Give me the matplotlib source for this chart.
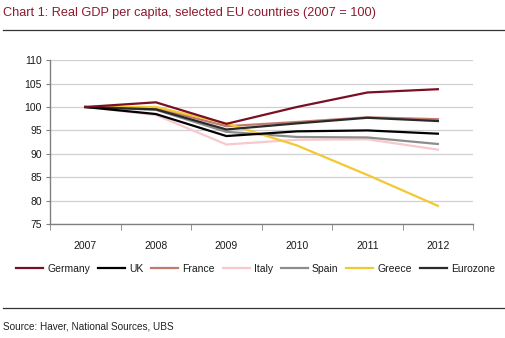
import matplotlib
matplotlib.use("Agg")
import matplotlib.pyplot as plt
from matplotlib.lines import Line2D

plt.rcParams["font.family"] = ["Liberation Sans", "DejaVu Sans"]

years = ["2007", "2008", "2009", "2010", "2011", "2012"]
germany = [100, 101.0, 96.4, 100.0, 103.1, 103.8]
uk = [100, 98.5, 93.8, 94.8, 95.0, 94.3]
france = [100, 99.8, 95.9, 96.8, 97.8, 97.4]
italy = [100, 98.3, 92.0, 93.0, 93.1, 90.9]
spain = [100, 99.4, 94.7, 93.6, 93.5, 92.1]
greece = [100, 100.0, 96.5, 91.8, 85.5, 78.9]
eurozone = [100, 99.5, 95.2, 96.5, 97.7, 97.0]

series = [
    ("Germany", germany, "#7a0f24"),
    ("UK", uk, "#000000"),
    ("France", france, "#c27a6e"),
    ("Italy", italy, "#f7c9cd"),
    ("Spain", spain, "#8c8c8c"),
    ("Greece", greece, "#f2c833"),
    ("Eurozone", eurozone, "#2a2a2a"),
]

fig = plt.figure(figsize=(5.06, 3.38), dpi=100)
ax = fig.add_axes([0.099, 0.337, 0.836, 0.485])

x = range(len(years))
# draw back to front so the lighter lines sit under the darker ones
order = ["Italy", "Spain", "France", "Greece", "Eurozone", "UK", "Germany"]
lookup = {name: (vals, col) for name, vals, col in series}
for name in order:
    vals, col = lookup[name]
    ax.plot(x, vals, color=col, lw=1.6, solid_joinstyle="miter")

ax.set_xlim(-0.5, len(years) - 0.5)
ax.set_ylim(75, 110)
ax.set_yticks(range(75, 111, 5))
ax.tick_params(axis="y", labelsize=7.5, length=3, color="#808080", pad=3,
               labelcolor="#1a1a1a")
ax.set_xticks([i for i in x])
ax.set_xticklabels(years, fontsize=7.5, color="#1a1a1a")
ax.set_xticks([i - 0.5 for i in range(len(years) + 1)], minor=True)
ax.tick_params(axis="x", which="major", length=0, pad=12)
ax.tick_params(axis="x", which="minor", length=4, color="#808080", direction="out")
ax.yaxis.grid(True, color="#d0d0d0", lw=0.9)
ax.set_axisbelow(True)
for s in ("top", "right"):
    ax.spines[s].set_visible(False)
for s in ("left", "bottom"):
    ax.spines[s].set_color("#808080")
    ax.spines[s].set_linewidth(1.0)

handles = [Line2D([], [], color=col, lw=1.6) for _, _, col in series]
fig.legend(handles, [n for n, _, _ in series], loc="center", bbox_to_anchor=(0.505, 0.205),
           ncol=7, frameon=False, fontsize=7.5, handlelength=2.6, handletextpad=0.4,
           columnspacing=0.75, labelcolor="#1a1a1a")

fig.text(0.006, 0.962, "Chart 1: Real GDP per capita, selected EU countries (2007 = 100)",
         fontsize=9.2, color="#8b1a2e", va="center")
fig.add_artist(Line2D([0.006, 1.0], [0.91, 0.91], color="#333333", lw=0.9))
fig.add_artist(Line2D([0.006, 1.0], [0.088, 0.088], color="#333333", lw=0.9))
fig.text(0.006, 0.035, "Source: Haver, National Sources, UBS", fontsize=7.2,
         color="#222222", va="center")

fig.savefig("out.png", dpi=100)
